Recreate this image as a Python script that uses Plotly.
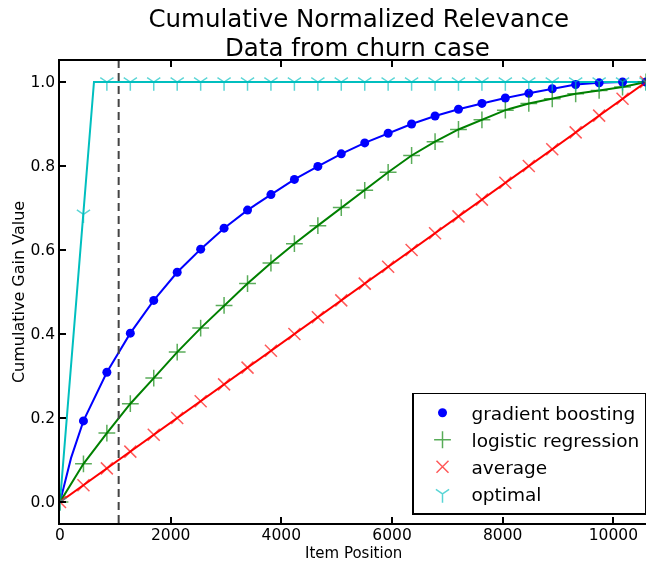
import plotly.graph_objects as go

# ---- data ----
n_items = 10590
cutoff = 1060  # dashed reference line position

marker_pos = [0, 424, 847, 1271, 1694, 2118, 2542, 2965, 3389, 3812, 4236,
              4660, 5083, 5507, 5930, 6354, 6778, 7201, 7625, 8048, 8472,
              8896, 9319, 9743, 10166, 10590]

gb_vals = [0.0, 0.193, 0.309, 0.402, 0.480, 0.547, 0.602, 0.652, 0.695, 0.732,
           0.768, 0.799, 0.829, 0.855, 0.878, 0.900, 0.919, 0.935, 0.949, 0.962,
           0.973, 0.984, 0.994, 0.998, 1.0, 1.0]
lr_vals = [0.0, 0.091, 0.164, 0.234, 0.295, 0.357, 0.414, 0.468, 0.520, 0.569,
           0.615, 0.658, 0.701, 0.742, 0.785, 0.825, 0.858, 0.887, 0.910, 0.933,
           0.949, 0.960, 0.972, 0.980, 0.988, 1.0]
avg_vals = [0.0, 0.04, 0.08, 0.12, 0.16, 0.20, 0.24, 0.28, 0.32, 0.36, 0.40,
            0.44, 0.48, 0.52, 0.56, 0.60, 0.64, 0.68, 0.72, 0.76, 0.80, 0.84,
            0.88, 0.92, 0.96, 1.0]
opt_vals = [0.0, 0.685, 1.0, 1.0, 1.0, 1.0, 1.0, 1.0, 1.0, 1.0, 1.0, 1.0, 1.0,
            1.0, 1.0, 1.0, 1.0, 1.0, 1.0, 1.0, 1.0, 1.0, 1.0, 1.0, 1.0, 1.0]

# line paths (extra read-off points where the curves bend)
gb_line_x = [0, 200] + marker_pos[1:]
gb_line_y = [0.0, 0.105] + gb_vals[1:]
lr_line_x = marker_pos
lr_line_y = lr_vals
avg_line_x = marker_pos
avg_line_y = avg_vals
opt_line_x = [0, 614, 10590]
opt_line_y = [0.0, 1.0, 1.0]

x_ticks = [0, 2000, 4000, 6000, 8000, 10000]
y_ticks = [0.0, 0.2, 0.4, 0.6, 0.8, 1.0]

title_lines = ["Cumulative Normalized Relevance", "Data from churn case"]
x_title = "Item Position"
y_title = "Cumulative Gain Value"

BLUE = "#0000ff"
GREEN = "#008000"
RED = "#ff0000"
CYAN = "#00bfbf"
FONT = "DejaVu Sans"

fig = go.Figure()

# lines (no legend)
for lx, ly, col in [(gb_line_x, gb_line_y, BLUE), (lr_line_x, lr_line_y, GREEN),
                    (avg_line_x, avg_line_y, RED), (opt_line_x, opt_line_y, CYAN)]:
    fig.add_trace(go.Scatter(x=lx, y=ly, mode="lines", showlegend=False,
                             line=dict(color=col, width=2), hoverinfo="skip"))

# markers (legend entries)
fig.add_trace(go.Scatter(x=marker_pos[1:], y=gb_vals[1:], mode="markers",
                         name="gradient boosting",
                         marker=dict(symbol="circle", size=9, color=BLUE,
                                     line=dict(width=0))))
fig.add_trace(go.Scatter(x=marker_pos, y=lr_vals, mode="markers",
                         name="logistic regression", opacity=0.65,
                         marker=dict(symbol="cross-thin", size=12, color=GREEN,
                                     line=dict(width=1.5, color=GREEN))))
fig.add_trace(go.Scatter(x=marker_pos, y=avg_vals, mode="markers",
                         name="average", opacity=0.65,
                         marker=dict(symbol="x-thin", size=12, color=RED,
                                     line=dict(width=1.5, color=RED))))
fig.add_trace(go.Scatter(x=marker_pos, y=opt_vals, mode="markers",
                         name="optimal", opacity=0.65,
                         marker=dict(symbol="y-down", size=11, color=CYAN,
                                     line=dict(width=1.5, color=CYAN))))

fig.add_vline(x=cutoff, line=dict(color="#444444", width=2, dash="8px,5px"))

fig.add_annotation(text=title_lines[1], xref="paper", yref="paper",
                   x=0.507, y=1.0295, xanchor="center", yanchor="middle",
                   showarrow=False, font=dict(size=24.5, family=FONT, color="black"))
fig.add_annotation(text=x_title, xref="paper", yref="paper",
                   x=0.5, y=-0.0855, xanchor="center", yanchor="bottom",
                   borderpad=0, showarrow=False,
                   font=dict(size=15, family=FONT, color="black"))

fig.update_layout(
    width=646, height=563,
    margin=dict(l=60, r=0, t=61, b=40),
    paper_bgcolor="white", plot_bgcolor="white",
    font=dict(family=FONT, color="black", size=16),
    title=dict(text=title_lines[0], x=0.5554, xanchor="center",
               y=0.9675, yanchor="middle", font=dict(size=24.5, family=FONT)),
    showlegend=True,
    legend=dict(x=1.0, xanchor="right", y=0.018, yanchor="bottom",
                bgcolor="white", bordercolor="black", borderwidth=1.5,
                font=dict(size=18.5, family=FONT), itemwidth=48,
                tracegroupgap=0),
    xaxis=dict(range=[0, n_items], tickvals=x_ticks,
               ticktext=[str(v) for v in x_ticks],
               ticks="inside", ticklen=6, tickwidth=1.5, tickcolor="black",
               showline=True, linecolor="black", linewidth=1.5, mirror="allticks",
               showgrid=False, zeroline=False, ticklabelstandoff=-3,
               tickfont=dict(size=15.5)),
    yaxis=dict(range=[-0.05, 1.05], tickvals=y_ticks,
               ticktext=["%.1f" % v for v in y_ticks],
               ticks="inside", ticklen=6, tickwidth=1.5, tickcolor="black",
               showline=True, linecolor="black", linewidth=1.5, mirror=False,
               showgrid=False, zeroline=False,
               title=dict(text=y_title, font=dict(size=16), standoff=2),
               tickfont=dict(size=15.5)),
)

fig.write_html("out.html")
